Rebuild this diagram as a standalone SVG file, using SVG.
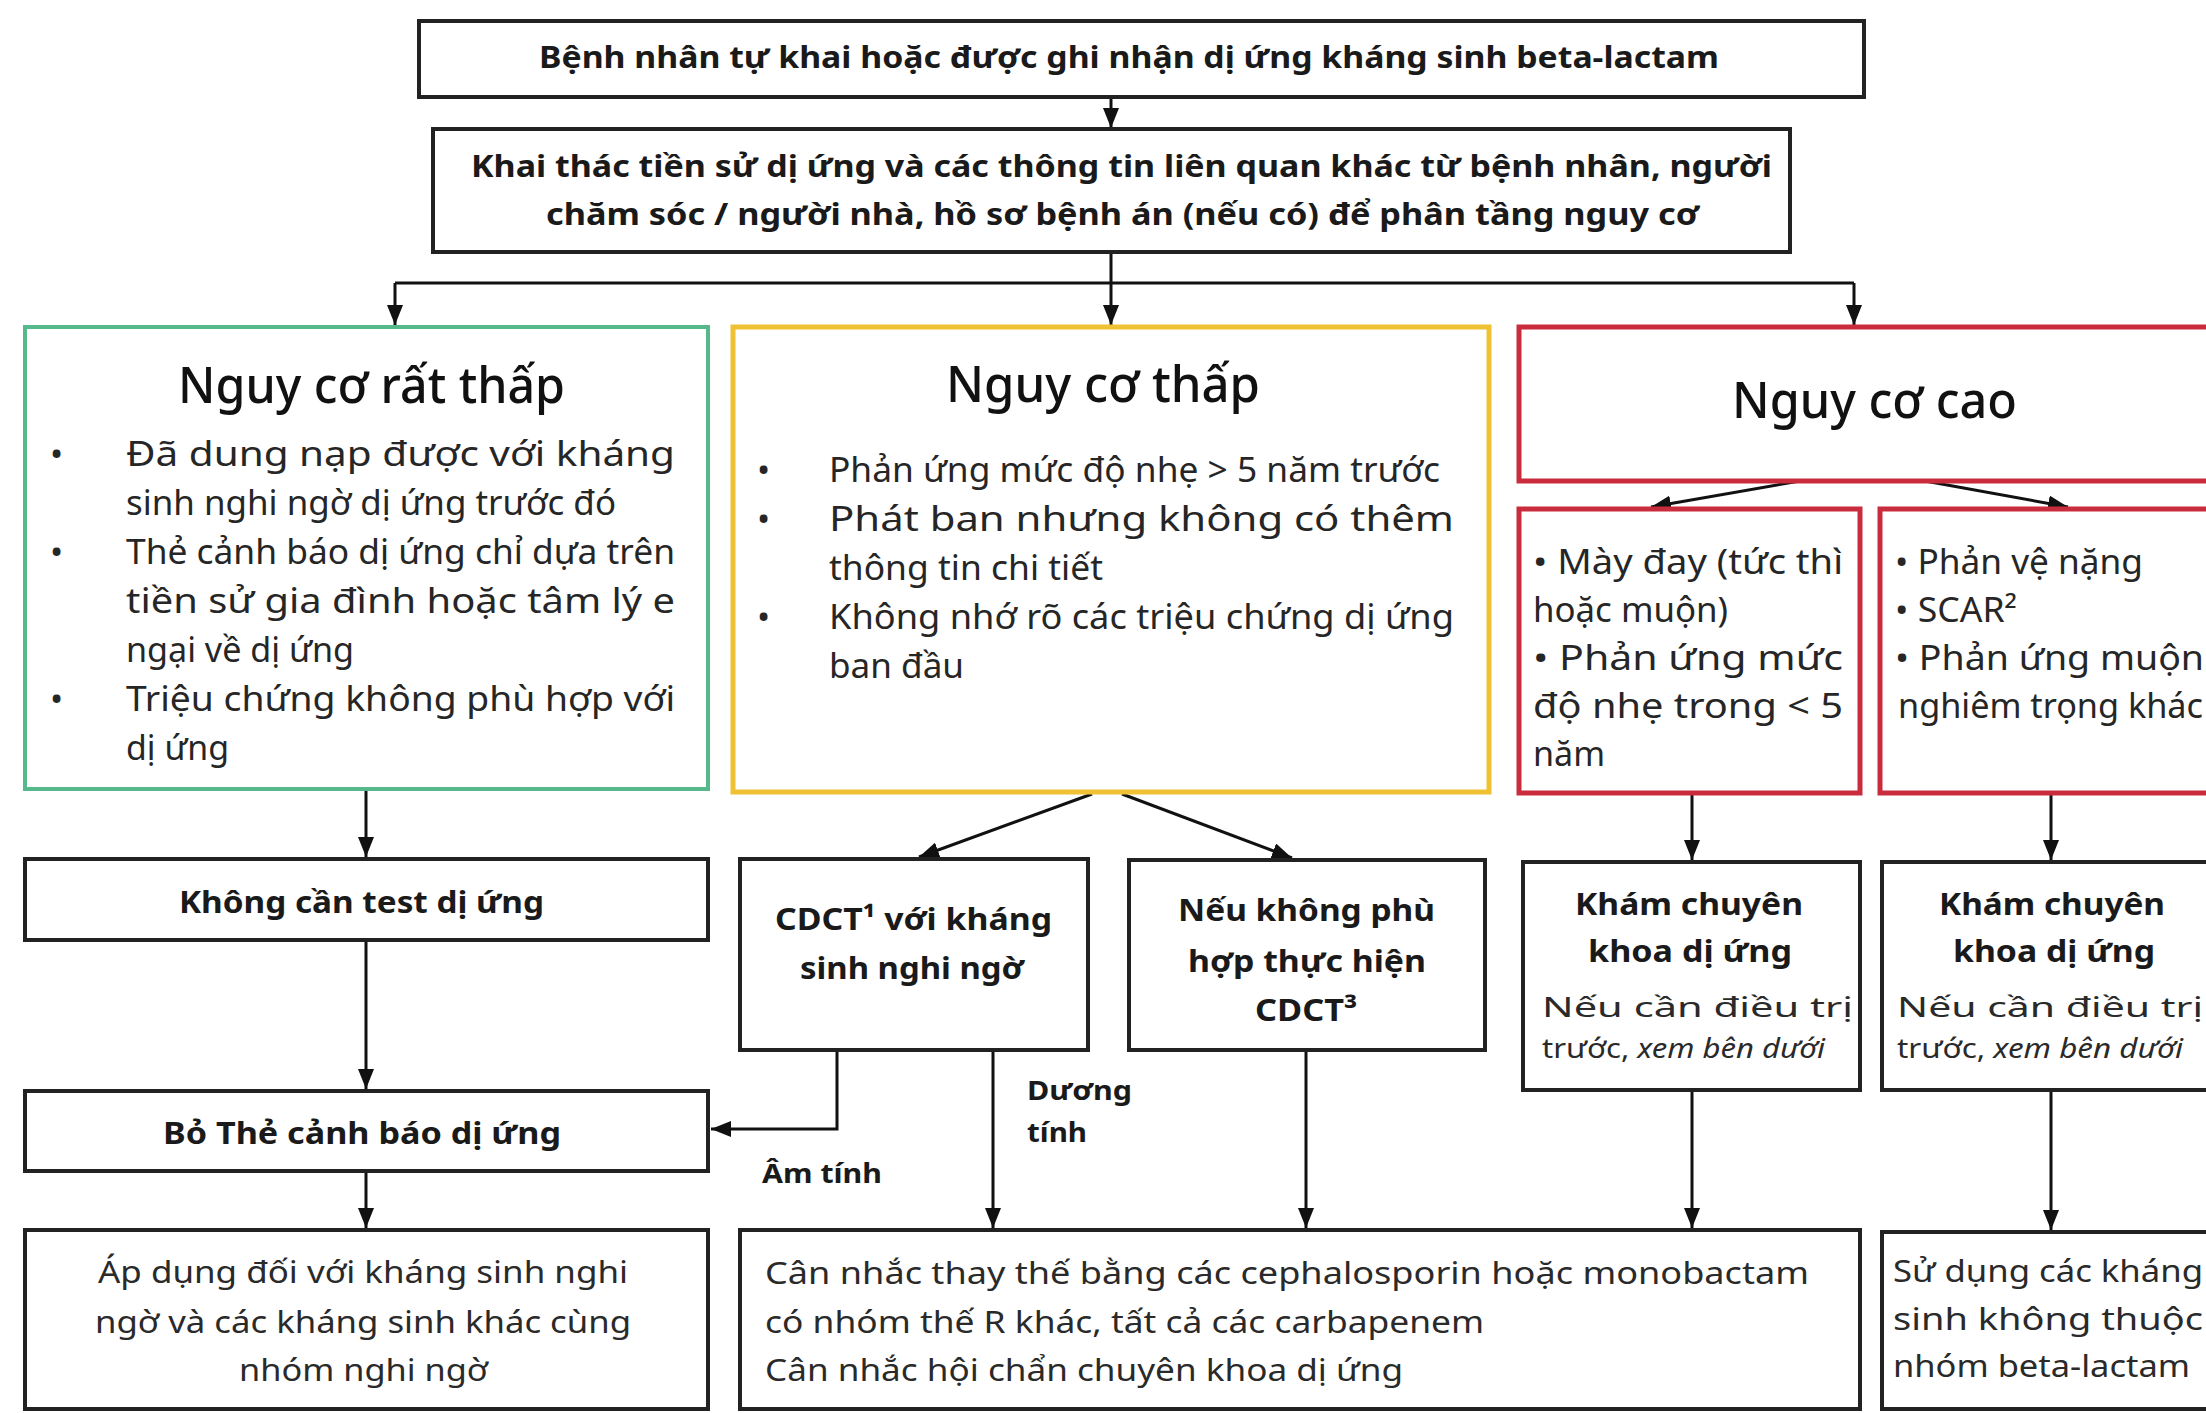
<svg xmlns="http://www.w3.org/2000/svg" width="2206" height="1413" viewBox="0 0 2206 1413">
<defs>
<style>
text{font-family:"Noto Sans","Liberation Sans",sans-serif}
.bx{fill:#fff;stroke:#222;stroke-width:4}
.gr{fill:#fff;stroke:#55b98b;stroke-width:4}
.ye{fill:#fff;stroke:#f0c233;stroke-width:5}
.rd{fill:#fff;stroke:#c92c3c;stroke-width:5}
.b{font-weight:700;fill:#1a1a1a}
.hb{font-size:30px}
.nb{font-size:31px}
.lb{font-size:26px}
.ti{font-size:50px;fill:#111;font-weight:500}
.bu{font-size:35px;fill:#262626}
.rs{font-size:34px;fill:#262626}
.sm{font-size:28px;fill:#2a2a2a}
.bt{font-size:31px;fill:#2a2a2a}
.it{font-style:italic}
.c{fill:none;stroke:#111;stroke-width:3}
</style>
<marker id="ah" markerUnits="userSpaceOnUse" markerWidth="20" markerHeight="16" viewBox="0 0 20 16" refX="20" refY="8" orient="auto">
<path d="M0,0 L20,8 L0,16 z" fill="#111"/>
</marker>
</defs>
<rect width="2206" height="1413" fill="#fff"/>

<g id="connectors">
<path class="c" d="M1111,97 V128" marker-end="url(#ah)"/>
<path class="c" d="M1111,252 V283 M395,283 H1854"/>
<path class="c" d="M395,283 V325" marker-end="url(#ah)"/>
<path class="c" d="M1111,283 V325" marker-end="url(#ah)"/>
<path class="c" d="M1854,283 V325" marker-end="url(#ah)"/>
<path class="c" d="M1800,481 L1651,507" marker-end="url(#ah)"/>
<path class="c" d="M1925,481 L2068,507" marker-end="url(#ah)"/>
<path class="c" d="M366,790 V857" marker-end="url(#ah)"/>
<path class="c" d="M366,940 V1089" marker-end="url(#ah)"/>
<path class="c" d="M366,1171 V1228" marker-end="url(#ah)"/>
<path class="c" d="M1092,794 L919,857" marker-end="url(#ah)"/>
<path class="c" d="M1122,794 L1292,858" marker-end="url(#ah)"/>
<path class="c" d="M837,1050 V1129 H711" marker-end="url(#ah)"/>
<path class="c" d="M993,1050 V1228" marker-end="url(#ah)"/>
<path class="c" d="M1306,1050 V1228" marker-end="url(#ah)"/>
<path class="c" d="M1692,793 V860" marker-end="url(#ah)"/>
<path class="c" d="M2051,793 V860" marker-end="url(#ah)"/>
<path class="c" d="M1692,1090 V1228" marker-end="url(#ah)"/>
<path class="c" d="M2051,1090 V1230" marker-end="url(#ah)"/>
</g>

<g id="start">
<rect class="bx" x="419" y="21" width="1445" height="76"/>
<text class="b hb" x="539" y="68" textLength="1180" lengthAdjust="spacingAndGlyphs">Bệnh nhân tự khai hoặc được ghi nhận dị ứng kháng sinh beta-lactam</text>
</g>

<g id="history">
<rect class="bx" x="433" y="129" width="1357" height="123"/>
<text class="b hb" x="471" y="177" textLength="1301" lengthAdjust="spacingAndGlyphs">Khai thác tiền sử dị ứng và các thông tin liên quan khác từ bệnh nhân, người</text>
<text class="b hb" x="546" y="225" textLength="1153" lengthAdjust="spacingAndGlyphs">chăm sóc / người nhà, hồ sơ bệnh án (nếu có) để phân tầng nguy cơ</text>
</g>

<g id="very-low-risk">
<rect class="gr" x="25" y="327" width="683" height="462"/>
<text class="ti" x="178" y="403" textLength="387" lengthAdjust="spacingAndGlyphs">Nguy cơ rất thấp</text>
<text class="bu" x="50" y="466">•</text>
<text class="bu" x="50" y="564">•</text>
<text class="bu" x="50" y="711">•</text>
<text class="bu" x="126" y="466" textLength="549" lengthAdjust="spacingAndGlyphs">Đã dung nạp được với kháng</text>
<text class="bu" x="126" y="515" textLength="490" lengthAdjust="spacingAndGlyphs">sinh nghi ngờ dị ứng trước đó</text>
<text class="bu" x="126" y="564" textLength="549" lengthAdjust="spacingAndGlyphs">Thẻ cảnh báo dị ứng chỉ dựa trên</text>
<text class="bu" x="126" y="613" textLength="549" lengthAdjust="spacingAndGlyphs">tiền sử gia đình hoặc tâm lý e</text>
<text class="bu" x="126" y="662" textLength="228" lengthAdjust="spacingAndGlyphs">ngại về dị ứng</text>
<text class="bu" x="126" y="711" textLength="549" lengthAdjust="spacingAndGlyphs">Triệu chứng không phù hợp với</text>
<text class="bu" x="126" y="760" textLength="103" lengthAdjust="spacingAndGlyphs">dị ứng</text>
</g>

<g id="low-risk">
<rect class="ye" x="733" y="327" width="756" height="465"/>
<text class="ti" x="946" y="402" textLength="314" lengthAdjust="spacingAndGlyphs">Nguy cơ thấp</text>
<text class="bu" x="757" y="482">•</text>
<text class="bu" x="757" y="531">•</text>
<text class="bu" x="757" y="629">•</text>
<text class="bu" x="829" y="482" textLength="611" lengthAdjust="spacingAndGlyphs">Phản ứng mức độ nhẹ &gt; 5 năm trước</text>
<text class="bu" x="829" y="531" textLength="625" lengthAdjust="spacingAndGlyphs">Phát ban nhưng không có thêm</text>
<text class="bu" x="829" y="580" textLength="274" lengthAdjust="spacingAndGlyphs">thông tin chi tiết</text>
<text class="bu" x="829" y="629" textLength="625" lengthAdjust="spacingAndGlyphs">Không nhớ rõ các triệu chứng dị ứng</text>
<text class="bu" x="829" y="678" textLength="135" lengthAdjust="spacingAndGlyphs">ban đầu</text>
</g>

<g id="high-risk">
<rect class="rd" x="1519" y="327" width="720" height="154"/>
<text class="ti" x="1732" y="418" textLength="285" lengthAdjust="spacingAndGlyphs">Nguy cơ cao</text>
</g>

<g id="high-risk-a">
<rect class="rd" x="1519" y="509" width="341" height="284"/>
<text class="rs" x="1533" y="574" textLength="310" lengthAdjust="spacingAndGlyphs">• Mày đay (tức thì</text>
<text class="rs" x="1533" y="622" textLength="195" lengthAdjust="spacingAndGlyphs">hoặc muộn)</text>
<text class="rs" x="1533" y="670" textLength="310" lengthAdjust="spacingAndGlyphs">• Phản ứng mức</text>
<text class="rs" x="1533" y="718" textLength="310" lengthAdjust="spacingAndGlyphs">độ nhẹ trong &lt; 5</text>
<text class="rs" x="1533" y="766" textLength="72" lengthAdjust="spacingAndGlyphs">năm</text>
</g>

<g id="high-risk-b">
<rect class="rd" x="1880" y="509" width="360" height="284"/>
<text class="rs" x="1895" y="574" textLength="248" lengthAdjust="spacingAndGlyphs">• Phản vệ nặng</text>
<text class="rs" x="1895" y="622" textLength="122" lengthAdjust="spacingAndGlyphs">• SCAR²</text>
<text class="rs" x="1895" y="670" textLength="309" lengthAdjust="spacingAndGlyphs">• Phản ứng muộn</text>
<text class="rs" x="1898" y="718" textLength="305" lengthAdjust="spacingAndGlyphs">nghiêm trọng khác</text>
</g>

<g id="no-test">
<rect class="bx" x="25" y="859" width="683" height="81"/>
<text class="b nb" x="179" y="913" textLength="365" lengthAdjust="spacingAndGlyphs">Không cần test dị ứng</text>
</g>

<g id="remove-label">
<rect class="bx" x="25" y="1091" width="683" height="80"/>
<text class="b nb" x="163" y="1144" textLength="398" lengthAdjust="spacingAndGlyphs">Bỏ Thẻ cảnh báo dị ứng</text>
</g>

<g id="cdct">
<rect class="bx" x="740" y="859" width="348" height="191"/>
<text class="b nb" x="775" y="930" textLength="277" lengthAdjust="spacingAndGlyphs">CDCT¹ với kháng</text>
<text class="b nb" x="800" y="979" textLength="224" lengthAdjust="spacingAndGlyphs">sinh nghi ngờ</text>
</g>

<g id="cdct-alt">
<rect class="bx" x="1129" y="860" width="356" height="190"/>
<text class="b nb" x="1178" y="921" textLength="257" lengthAdjust="spacingAndGlyphs">Nếu không phù</text>
<text class="b nb" x="1188" y="972" textLength="238" lengthAdjust="spacingAndGlyphs">hợp thực hiện</text>
<text class="b nb" x="1255" y="1021" textLength="102" lengthAdjust="spacingAndGlyphs">CDCT³</text>
</g>

<g id="allergy-a">
<rect class="bx" x="1523" y="862" width="337" height="228"/>
<text class="b nb" x="1575" y="915" textLength="228" lengthAdjust="spacingAndGlyphs">Khám chuyên</text>
<text class="b nb" x="1588" y="962" textLength="204" lengthAdjust="spacingAndGlyphs">khoa dị ứng</text>
<text class="sm" x="1542" y="1017" textLength="311" lengthAdjust="spacingAndGlyphs">Nếu cần điều trị</text>
<text class="sm" x="1542" y="1058" textLength="283" lengthAdjust="spacingAndGlyphs">trước, <tspan class="it">xem bên dưới</tspan></text>
</g>

<g id="allergy-b">
<rect class="bx" x="1882" y="862" width="360" height="228"/>
<text class="b nb" x="1939" y="915" textLength="226" lengthAdjust="spacingAndGlyphs">Khám chuyên</text>
<text class="b nb" x="1953" y="962" textLength="202" lengthAdjust="spacingAndGlyphs">khoa dị ứng</text>
<text class="sm" x="1897" y="1017" textLength="306" lengthAdjust="spacingAndGlyphs">Nếu cần điều trị</text>
<text class="sm" x="1897" y="1058" textLength="286" lengthAdjust="spacingAndGlyphs">trước, <tspan class="it">xem bên dưới</tspan></text>
</g>

<g id="labels">
<text class="b lb" x="1027" y="1100" textLength="105" lengthAdjust="spacingAndGlyphs">Dương</text>
<text class="b lb" x="1027" y="1142" textLength="60" lengthAdjust="spacingAndGlyphs">tính</text>
<text class="b lb" x="762" y="1183" textLength="120" lengthAdjust="spacingAndGlyphs">Âm tính</text>
</g>

<g id="apply">
<rect class="bx" x="25" y="1230" width="683" height="179"/>
<text class="bt" x="98" y="1283" textLength="530" lengthAdjust="spacingAndGlyphs">Áp dụng đối với kháng sinh nghi</text>
<text class="bt" x="95" y="1333" textLength="536" lengthAdjust="spacingAndGlyphs">ngờ và các kháng sinh khác cùng</text>
<text class="bt" x="239" y="1381" textLength="249" lengthAdjust="spacingAndGlyphs">nhóm nghi ngờ</text>
</g>

<g id="consider">
<rect class="bx" x="740" y="1230" width="1120" height="179"/>
<text class="bt" x="765" y="1284" textLength="1044" lengthAdjust="spacingAndGlyphs">Cân nhắc thay thế bằng các cephalosporin hoặc monobactam</text>
<text class="bt" x="765" y="1333" textLength="719" lengthAdjust="spacingAndGlyphs">có nhóm thế R khác, tất cả các carbapenem</text>
<text class="bt" x="765" y="1381" textLength="638" lengthAdjust="spacingAndGlyphs">Cân nhắc hội chẩn chuyên khoa dị ứng</text>
</g>

<g id="non-beta">
<rect class="bx" x="1882" y="1232" width="360" height="177"/>
<text class="bt" x="1893" y="1282" textLength="310" lengthAdjust="spacingAndGlyphs">Sử dụng các kháng</text>
<text class="bt" x="1893" y="1330" textLength="310" lengthAdjust="spacingAndGlyphs">sinh không thuộc</text>
<text class="bt" x="1893" y="1377" textLength="297" lengthAdjust="spacingAndGlyphs">nhóm beta-lactam</text>
</g>
</svg>
